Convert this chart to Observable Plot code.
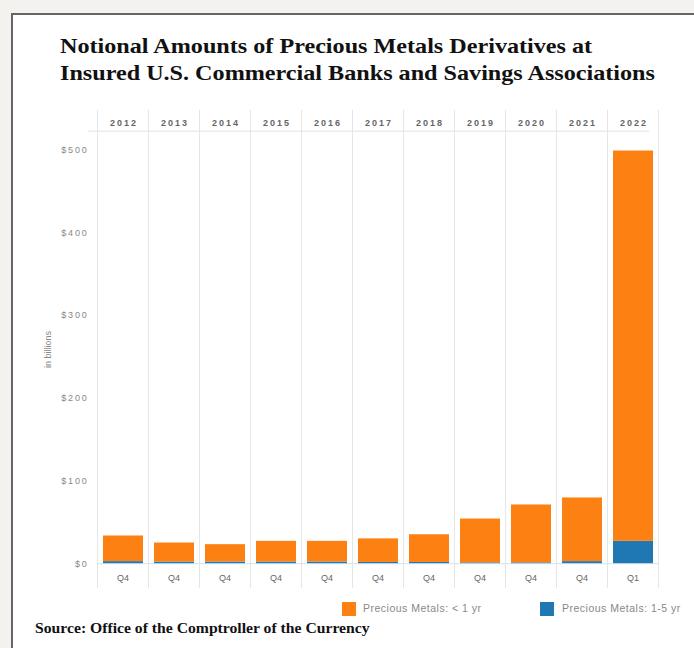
<!DOCTYPE html>
<html><head><meta charset="utf-8">
<script src="https://cdn.jsdelivr.net/npm/d3@7"></script>
<script src="https://cdn.jsdelivr.net/npm/@observablehq/plot@0.6"></script>
<style>
html,body{margin:0;padding:0;}
body{width:694px;height:648px;background:#f3f2ee;position:relative;overflow:hidden;}
#panel{position:absolute;left:11px;top:13px;width:800px;height:700px;background:#fff;border:2px solid #666;box-sizing:border-box;}
#title{position:absolute;left:60px;top:33px;font-family:"Liberation Serif","Times New Roman",serif;font-weight:bold;font-size:21px;line-height:27px;color:#111;white-space:nowrap;transform:scaleX(1.15);transform-origin:0 0;}
#chart{position:absolute;left:0;top:100px;}
.leg{position:absolute;font-family:"Liberation Sans",Arial,sans-serif;font-size:10.5px;letter-spacing:0.5px;color:#888;white-space:nowrap;}
.sw{position:absolute;width:14px;height:14px;}
#source{position:absolute;left:35px;top:621px;font-family:"Liberation Serif","Times New Roman",serif;font-weight:bold;font-size:14px;color:#111;white-space:nowrap;transform:scaleX(1.12);transform-origin:0 0;}
</style></head>
<body>
<div id="panel"></div>
<div id="title">Notional Amounts of Precious Metals Derivatives at<br>Insured U.S. Commercial Banks and Savings Associations</div>
<div id="chart"></div>
<div class="sw" style="left:342px;top:602px;background:#fd8112;"></div>
<div class="leg" style="left:363px;top:602px;">Precious Metals: &lt; 1 yr</div>
<div class="sw" style="left:540px;top:602px;background:#1f77b4;"></div>
<div class="leg" style="left:562px;top:602px;">Precious Metals: 1-5 yr</div>
<div id="source">Source: Office of the Comptroller of the Currency</div>
<script>
const years = ["2012","2013","2014","2015","2016","2017","2018","2019","2020","2021","2022"];
const quarters = ["Q4","Q4","Q4","Q4","Q4","Q4","Q4","Q4","Q4","Q4","Q1"];
const under1yr = [31, 23, 21, 25, 25, 28.5, 33.5, 53, 70, 77, 472];
const oneToFive = [2.5, 2, 2, 2, 2, 1.5, 1.5, 1, 1, 2.5, 27];
const yTicks = [0, 100, 200, 300, 400, 500];
const seriesNames = ["Precious Metals: 1-5 yr", "Precious Metals: < 1 yr"];
const seriesColors = ["#1f77b4", "#fd8112"];

const data = [];
years.forEach((y, i) => {
  data.push({year: y, series: seriesNames[0], value: oneToFive[i]});
  data.push({year: y, series: seriesNames[1], value: under1yr[i]});
});
const qOf = Object.fromEntries(years.map((y, i) => [y, quarters[i]]));

const W = 694, mL = 97, mR = 36;
const step = (W - mL - mR) / years.length;
const font = '"Liberation Sans", Arial, sans-serif';

const chart = Plot.plot({
  width: W, height: 500,
  marginLeft: mL, marginRight: mR, marginTop: 10, marginBottom: 12,
  style: {fontFamily: font, fontSize: "9px", color: "#666", background: "transparent"},
  x: {type: "band", domain: years, padding: 0, axis: null},
  y: {domain: [-30, 548], axis: null},
  color: {domain: seriesNames, range: seriesColors},
  marks: [
    Plot.ruleY([523], {stroke: "#e2e2e2", dx: -9}),
    Plot.ruleX(years, {x: d => d, dx: -step / 2, stroke: "#e6e6e6"}),
    Plot.ruleX([years[years.length - 1]], {x: d => d, dx: step / 2, stroke: "#e6e6e6"}),
    Plot.ruleY([0], {stroke: "#d6e2ec"}),
    Plot.barY(data, {x: "year", y: "value", fill: "series", insetLeft: 6, insetRight: 5, order: seriesNames}),
    Plot.axisX({anchor: "top", tickSize: 0, tickPadding: 0, dy: 15.5, fill: "#666", fontWeight: "bold", label: null}),
    Plot.axisX({anchor: "bottom", tickSize: 0, tickPadding: 0, dy: -14, tickFormat: d => qOf[d], fill: "#666", label: null}),
    Plot.axisY({ticks: yTicks, tickFormat: d => "$" + d, tickSize: 0, tickPadding: 9, fill: "#888",
      label: "in billions", labelAnchor: "center", labelOffset: 53, labelArrow: "none"})
  ]
});
d3.select(chart).selectAll("g[aria-label='y-axis tick label'] text").attr("letter-spacing", "1.8px");
d3.select(chart).selectAll("g[aria-label='x-axis tick label'] text")
  .filter(function() { return /^\d{4}$/.test(this.textContent); })
  .attr("letter-spacing", "2px").attr("dx", "1");
document.getElementById("chart").appendChild(chart);
</script>
</body></html>
